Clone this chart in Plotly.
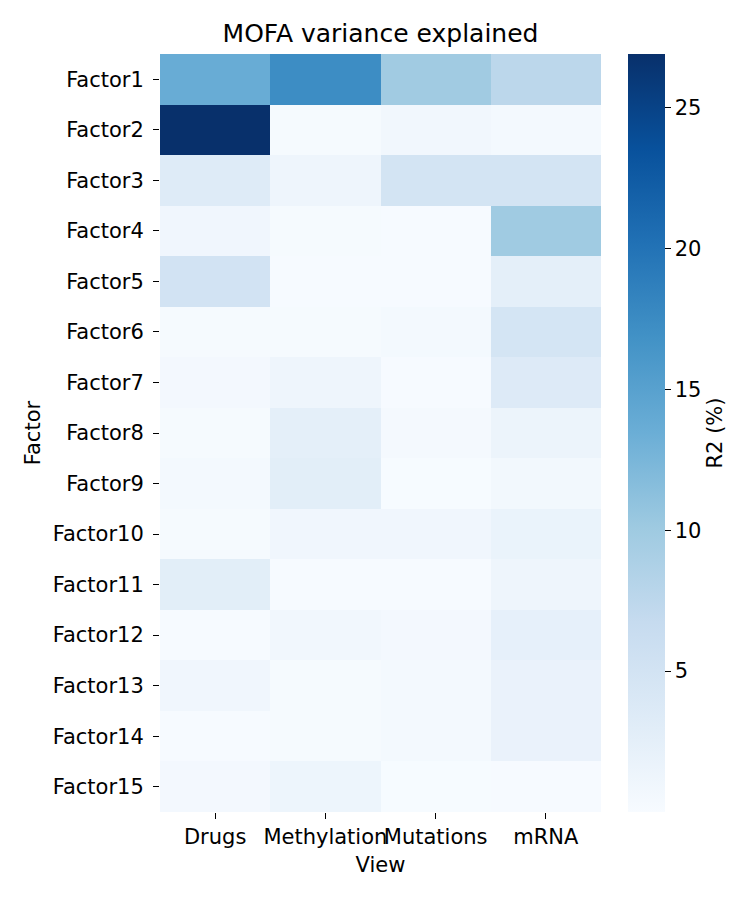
import plotly.graph_objects as go

factors = [f"Factor{i}" for i in range(1, 16)]
views = ["Drugs", "Methylation", "Mutations", "mRNA"]

drugs       = [13.7, 26.9, 3.4, 1.0, 5.0, 0.3, 0.6, 0.3, 0.5, 0.3, 2.8, 0.2, 1.0, 0.2, 0.6]
methylation = [17.3, 0.3, 1.2, 0.3, 0.2, 0.3, 1.2, 2.5, 2.8, 1.0, 0.2, 0.8, 0.3, 0.3, 1.3]
mutations   = [9.8, 0.8, 4.9, 0.2, 0.2, 0.5, 0.2, 0.4, 0.1, 1.0, 0.2, 0.6, 0.5, 0.5, 0.1]
mrna        = [7.6, 0.5, 4.9, 9.9, 2.6, 4.7, 3.5, 1.5, 0.7, 1.7, 1.2, 2.3, 1.8, 1.8, 0.2]

z = [list(r) for r in zip(drugs, methylation, mutations, mrna)]

blues = [
    [0.0, "rgb(247,251,255)"], [0.125, "rgb(222,235,247)"], [0.25, "rgb(198,219,239)"],
    [0.375, "rgb(158,202,225)"], [0.5, "rgb(107,174,214)"], [0.625, "rgb(66,146,198)"],
    [0.75, "rgb(33,113,181)"], [0.875, "rgb(8,81,156)"], [1.0, "rgb(8,48,107)"],
]

FONT = "DejaVu Sans"
FS = 21
L, R, T, B = 160, 601, 54, 812
W, H = 750, 900

fig = go.Figure(go.Heatmap(
    z=z, x=views, y=factors, colorscale=blues, zmin=0.0, zmax=26.9,
    xgap=0, ygap=0,
    colorbar=dict(
        x=(628 - L) / (R - L), xanchor="left", xpad=0, y=0.5, yanchor="middle", ypad=0,
        len=1.0, lenmode="fraction", thickness=37, outlinewidth=0,
        tickvals=[5, 10, 15, 20, 25], ticks="outside", ticklen=6, tickwidth=1,
        tickcolor="black", tickfont=dict(family=FONT, size=FS, color="black"),
        title=dict(text="R2 (%)", side="right", font=dict(family=FONT, size=FS, color="black")),
    ),
))

fig.update_layout(
    width=W, height=H,
    margin=dict(l=L, r=W - R, t=T, b=H - B, autoexpand=False),
    paper_bgcolor="white", plot_bgcolor="white",
    font=dict(family=FONT, size=FS, color="black"),
    title=dict(text="MOFA variance explained", x=(L + R) / 2 / W, xanchor="center",
               y=1 - 33 / H, yanchor="middle", font=dict(family=FONT, size=25, color="black")),
    xaxis=dict(title=dict(text="View", standoff=9, font=dict(family=FONT, size=FS)),
               ticks="outside", ticklen=6, tickwidth=1, tickangle=0,
               tickcolor="black", showgrid=False, zeroline=False, showline=False,
               tickfont=dict(family=FONT, size=FS)),
    yaxis=dict(title=dict(text="Factor", standoff=6, font=dict(family=FONT, size=FS)),
               autorange="reversed", ticks="outside", ticklabelstandoff=5,
               ticklen=6, tickwidth=1, tickcolor="black", showgrid=False, zeroline=False,
               showline=False, tickfont=dict(family=FONT, size=FS)),
)

fig.write_html("out.html")
